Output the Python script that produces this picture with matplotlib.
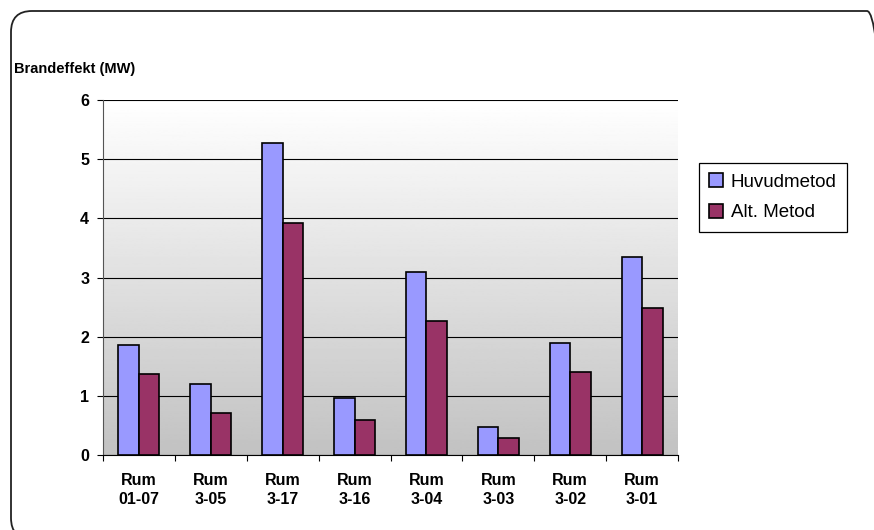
import matplotlib.pyplot as plt
import matplotlib.patches as mpatches
import numpy as np

rooms = ["Rum\n01-07", "Rum\n3-05", "Rum\n3-17", "Rum\n3-16", "Rum\n3-04", "Rum\n3-03", "Rum\n3-02", "Rum\n3-01"]
huvudmetod = [1.86, 1.20, 5.27, 0.97, 3.09, 0.48, 1.89, 3.34]
alt_metod = [1.37, 0.71, 3.92, 0.59, 2.26, 0.28, 1.40, 2.48]
y_ticks = [0, 1, 2, 3, 4, 5, 6]

plt.rcParams["font.family"] = ["Liberation Sans", "DejaVu Sans"]

fig = plt.figure(figsize=(8.74, 5.30), dpi=100)
ax = fig.add_axes([103 / 874, 1 - 455 / 530, 575 / 874, 355 / 530])

# grey gradient behind the bars
grad = np.linspace(1.0, 0.76, 256).reshape(-1, 1)
ax.imshow(grad, cmap="gray", vmin=0, vmax=1, aspect="auto",
          extent=[0, 1, 0, 1], transform=ax.transAxes, zorder=0)

x = np.arange(len(rooms))
w = 1 / 3.5
ax.bar(x - w / 2, huvudmetod, w, color="#9999FF", edgecolor="black", linewidth=1.2,
       label="Huvudmetod", zorder=3)
ax.bar(x + w / 2, alt_metod, w, color="#993366", edgecolor="black", linewidth=1.2,
       label="Alt. Metod", zorder=3)

ax.set_xlim(-0.5, len(rooms) - 0.5)
ax.set_ylim(0, 6)
ax.set_yticks(y_ticks)
ax.set_yticklabels([str(v) for v in y_ticks], fontsize=11.5, fontweight="bold")
ax.yaxis.grid(True, color="black", linewidth=0.8, zorder=1)
ax.set_axisbelow(True)

# category boundaries get the tick marks, centres get the labels
ax.set_xticks(np.arange(len(rooms) + 1) - 0.5)
ax.set_xticklabels([])
ax.set_xticks(x, minor=True)
ax.set_xticklabels(rooms, minor=True, fontsize=11.5, fontweight="bold", linespacing=1.35)
ax.tick_params(axis="x", which="major", direction="out", length=4, width=0.8)
ax.tick_params(axis="x", which="minor", length=0, pad=13)
ax.tick_params(axis="y", direction="out", length=4, width=0.8, pad=6)

for side in ["top", "right"]:
    ax.spines[side].set_visible(False)
ax.spines["left"].set_color("#555555")
ax.spines["bottom"].set_color("black")

fig.text(14 / 874, 1 - 69 / 530, "Brandeffekt (MW)", fontsize=10.5, fontweight="bold",
         va="center", ha="left")

leg = ax.legend(loc="upper left", bbox_to_anchor=(699 / 874, 1 - 163 / 530),
                bbox_transform=fig.transFigure, borderaxespad=0, fancybox=False,
                edgecolor="black", framealpha=1, fontsize=13.5, handlelength=0.75,
                handleheight=0.75, handletextpad=0.4, labelspacing=0.7,
                borderpad=0.55)
leg.get_frame().set_linewidth(0.9)

# rounded outer frame, running off the bottom and right edges
frame = mpatches.FancyBboxPatch((0.11, -0.09), 8.77, 5.28,
                                boxstyle="round,pad=0,rounding_size=0.21",
                                transform=fig.dpi_scale_trans, facecolor="none",
                                edgecolor="#222222", linewidth=1.3, clip_on=False)
fig.add_artist(frame)

fig.savefig("out.png", dpi=100)
